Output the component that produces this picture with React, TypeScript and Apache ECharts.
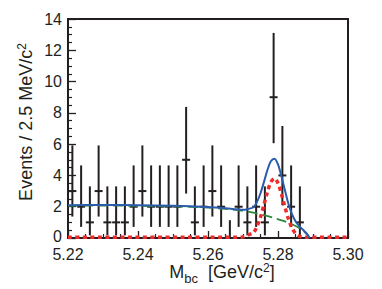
import React, { useEffect, useRef } from "react";
import * as echarts from "echarts";

const binCenters = [5.22125, 5.22375, 5.22625, 5.22875, 5.23125, 5.23375, 5.23625, 5.23875, 5.24125, 5.24375, 5.24625, 5.24875, 5.25125, 5.25375, 5.25625, 5.25875, 5.26125, 5.26375, 5.26625, 5.26875, 5.27125, 5.27375, 5.27625, 5.27875, 5.28125, 5.28375, 5.28625];
const counts = [3, 2, 1, 3, 1, 1, 1, 2, 3, 2, 2, 2, 2, 5, 1, 2, 3, 2, 0, 2, 1, 2, 1, 9, 4, 2, 1];
const errLow = [1.37, 0.71, 0.17, 1.37, 0.17, 0.17, 0.17, 0.71, 1.37, 0.71, 0.71, 0.71, 0.71, 2.84, 0.17, 0.71, 1.37, 0.71, 0, 0.71, 0.17, 0.71, 0.17, 6.06, 2.09, 0.71, 0.17];
const errHigh = [5.92, 4.64, 3.3, 5.92, 3.3, 3.3, 3.3, 4.64, 5.92, 4.64, 4.64, 4.64, 4.64, 8.38, 3.3, 4.64, 5.92, 4.64, 1.14, 4.64, 3.3, 4.64, 3.3, 13.11, 7.16, 4.64, 3.3];

const bkgX = [5.22, 5.23, 5.24, 5.25, 5.255, 5.26, 5.265, 5.27, 5.273, 5.276, 5.279, 5.282, 5.284, 5.286, 5.2875, 5.2885, 5.289];
const bkgY = [2.06, 2.07, 2.06, 2.02, 1.99, 1.94, 1.86, 1.74, 1.62, 1.46, 1.27, 1.06, 0.88, 0.66, 0.42, 0.2, 0];

const sigX = [5.22, 5.268, 5.27, 5.2715, 5.273, 5.274, 5.275, 5.276, 5.277, 5.278, 5.279, 5.28, 5.281, 5.282, 5.283, 5.284, 5.285, 5.286, 5.287, 5.288, 5.3];
const sigY = [0.04, 0.04, 0.07, 0.2, 0.35, 0.74, 1.34, 2.13, 2.96, 3.59, 3.8, 3.5, 2.8, 1.97, 1.2, 0.64, 0.3, 0.12, 0.06, 0.04, 0.04];

const totX = [5.22, 5.23, 5.24, 5.25, 5.255, 5.26, 5.265, 5.268, 5.27, 5.2715, 5.273, 5.274, 5.275, 5.276, 5.277, 5.278, 5.279, 5.28, 5.281, 5.282, 5.283, 5.284, 5.285, 5.286, 5.287, 5.288, 5.2885, 5.289];
const totY = [2.09, 2.11, 2.1, 2.06, 2.03, 1.98, 1.9, 1.84, 1.8, 1.86, 1.97, 2.31, 2.86, 3.59, 4.36, 4.92, 5.07, 4.7, 3.93, 3.03, 2.17, 1.52, 1.07, 0.78, 0.56, 0.32, 0.18, 0];

const xTicks = { min: 5.22, max: 5.3, interval: 0.02 };
const yTicks = { min: 0, max: 14, interval: 2 };

const INK = "#231f20";
const FONT = "Liberation Sans";

export default function App() {
  const ref = useRef<HTMLDivElement>(null);
  useEffect(() => {
    if (!ref.current) return;
    const chart = echarts.init(ref.current, null, { renderer: "svg" });
    const pts = binCenters.map((x, i) => [x, counts[i], errLow[i], errHigh[i]]);
    const zip = (xs: number[], ys: number[]) => xs.map((x, i) => [x, ys[i]]);
    chart.setOption({
      animation: false,
      backgroundColor: "#fff",
      grid: {
        left: 68, right: 34, top: 19, bottom: 51,
        show: true, borderColor: INK, borderWidth: 2, backgroundColor: "transparent",
      },
      xAxis: {
        type: "value",
        min: xTicks.min, max: xTicks.max, interval: xTicks.interval,
        axisLine: { show: true, onZero: false, lineStyle: { color: INK, width: 2 } },
        axisTick: { show: true, inside: true, length: 7, lineStyle: { color: INK, width: 1.3 } },
        minorTick: { show: true, splitNumber: 4, length: 4, lineStyle: { color: INK, width: 1.2 } },
        splitLine: { show: false },
        axisLabel: {
          color: INK, fontFamily: FONT, fontSize: 16, margin: 8, lineHeight: 16,
          formatter: (v: number) => v.toFixed(2),
        },
      },
      yAxis: {
        type: "value",
        min: yTicks.min, max: yTicks.max, interval: yTicks.interval,
        axisLine: { show: true, lineStyle: { color: INK, width: 2 } },
        axisTick: { show: true, inside: true, length: 8, lineStyle: { color: INK, width: 1.3 } },
        minorTick: { show: true, splitNumber: 4, length: 4, lineStyle: { color: INK, width: 1.2 } },
        splitLine: { show: false },
        axisLabel: {
          color: INK, fontFamily: FONT, fontSize: 16, margin: 6, lineHeight: 16,
          formatter: (v: number) => (v === 0 ? "{z|0}" : String(v)),
          rich: { z: { fontFamily: FONT, fontSize: 16, color: INK, padding: [0, 0, 4, 0] } },
        },
      },
      graphic: [
        {
          type: "text",
          x: 26, y: 122, rotation: Math.PI / 2,
          style: {
            text: "{n|Events / 2.5 MeV/c}{s|2}",
            align: "center", verticalAlign: "middle",
            fill: INK,
            rich: {
              n: { fontFamily: FONT, fontSize: 18, fill: INK, lineHeight: 20 },
              s: { fontFamily: FONT, fontSize: 12, fill: INK, verticalAlign: "top", lineHeight: 20 },
            },
          },
        },
        {
          type: "text",
          x: 222, y: 272,
          style: {
            text: "{n|M}{b|bc}{n|  [GeV/c}{s|2}{n|]}",
            align: "center", verticalAlign: "middle",
            fill: INK,
            rich: {
              n: { fontFamily: FONT, fontSize: 18, fill: INK, lineHeight: 16 },
              b: { fontFamily: FONT, fontSize: 13, fill: INK, verticalAlign: "bottom", lineHeight: 16, padding: [0, 0, -5, 0] },
              s: { fontFamily: FONT, fontSize: 12, fill: INK, verticalAlign: "top", lineHeight: 16, padding: [-2, 0, 0, 0] },
            },
          },
        },
      ],
      series: [
        {
          type: "custom",
          data: pts,
          z: 2,
          renderItem: (params: any, api: any) => {
            const x = api.value(0);
            const y = api.value(1);
            const lo = api.coord([x, api.value(2)]);
            const hi = api.coord([x, api.value(3)]);
            const c = api.coord([x, y]);
            return {
              type: "group",
              children: [
                { type: "line", shape: { x1: lo[0], y1: lo[1], x2: hi[0], y2: hi[1] }, style: { stroke: INK, lineWidth: 2 } },
                { type: "line", shape: { x1: c[0] - 4, y1: c[1], x2: c[0] + 4, y2: c[1] }, style: { stroke: INK, lineWidth: 2 } },
              ],
            };
          },
        },
        {
          type: "line", data: zip(bkgX, bkgY), smooth: 0.3, showSymbol: false, z: 3,
          lineStyle: { color: "#2f8a3c", width: 1.8, type: [10, 5] },
        },
        {
          type: "line", data: zip(sigX, sigY), smooth: 0.3, showSymbol: false, z: 4,
          lineStyle: { color: "#ee2b2b", width: 3.5, type: [4, 3.5] },
        },
        {
          type: "line", data: zip(totX, totY), smooth: 0.3, showSymbol: false, z: 5,
          lineStyle: { color: "#2b5cab", width: 2 },
        },
      ],
    });
    return () => chart.dispose();
  }, []);
  return <div ref={ref} style={{ position: "absolute", left: 0, top: 0, width: 382, height: 289 }} />;
}
